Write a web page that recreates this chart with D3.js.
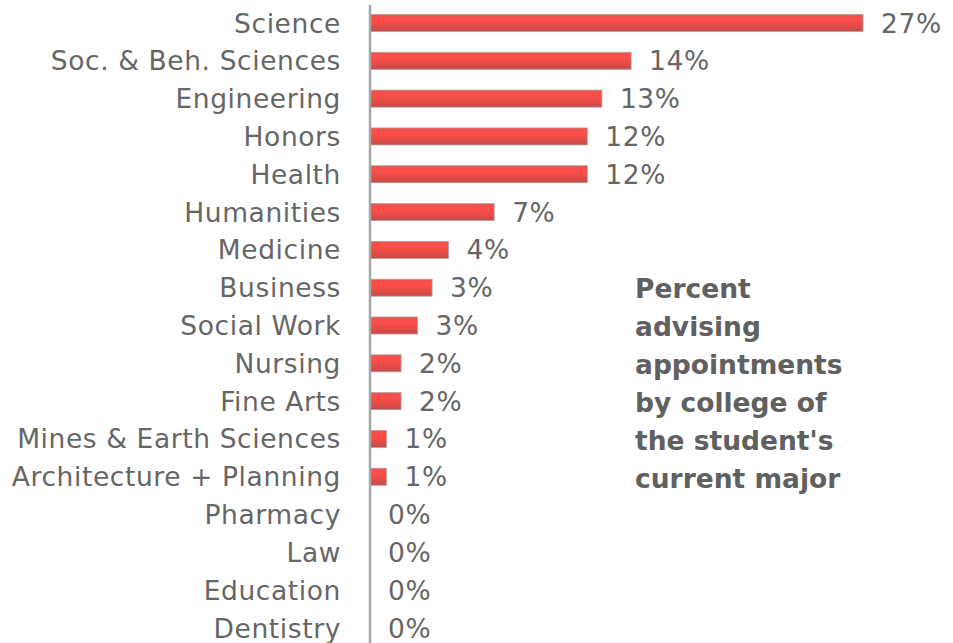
<!DOCTYPE html>
<html lang="en">
<head>
<meta charset="utf-8">
<script src="https://d3js.org/d3.v7.min.js"></script>
<style>
  body { margin: 0; background: #fff; }
  text { font-family: "DejaVu Sans", sans-serif; }
</style>
</head>
<body>
<svg id="chart" width="953" height="643"></svg>
<script>
// data
var colleges = ["Science", "Soc. & Beh. Sciences", "Engineering", "Honors", "Health",
  "Humanities", "Medicine", "Business", "Social Work", "Nursing", "Fine Arts",
  "Mines & Earth Sciences", "Architecture + Planning", "Pharmacy", "Law",
  "Education", "Dentistry"];
var shares = [27.0, 14.3, 12.7, 11.9, 11.9, 6.8, 4.3, 3.4, 2.6, 1.7, 1.7, 0.9, 0.9, 0, 0, 0, 0];
var shareLabels = ["27%", "14%", "13%", "12%", "12%", "7%", "4%", "3%", "3%", "2%", "2%",
  "1%", "1%", "0%", "0%", "0%", "0%"];
var titleLines = ["Percent", "advising", "appointments", "by college of",
  "the student's", "current major"];

var svg = d3.select("#chart");

var x = d3.scaleLinear().domain([0, 27]).range([370, 863]);
var y = d3.scaleBand().domain(colleges).range([4.1, 646.9])
  .paddingInner(0.55).paddingOuter(0.275);

// bar fill, light red on top going darker at the bottom
var defs = svg.append("defs");
var grad = defs.append("linearGradient").attr("id", "barfill")
  .attr("x1", 0).attr("y1", 0).attr("x2", 0).attr("y2", 1);
grad.append("stop").attr("offset", "0%").attr("stop-color", "#f0504c");
grad.append("stop").attr("offset", "35%").attr("stop-color", "#ff4d47");
grad.append("stop").attr("offset", "100%").attr("stop-color", "#c44a47");

var rows = colleges.map(function(c, i) {
  return {name: c, v: shares[i], lab: shareLabels[i]};
});

svg.selectAll("rect.bar").data(rows.filter(function(d) { return d.v > 0; }))
  .enter().append("rect").attr("class", "bar")
  .attr("x", x(0))
  .attr("y", function(d) { return y(d.name); })
  .attr("width", function(d) { return x(d.v) - x(0); })
  .attr("height", y.bandwidth())
  .attr("fill", "url(#barfill)")
  .attr("stroke", "#b0a0a0").attr("stroke-width", 0.8);

// category labels
svg.selectAll("text.cat").data(rows).enter().append("text").attr("class", "cat")
  .attr("x", 341)
  .attr("y", function(d) { return y(d.name) + y.bandwidth() / 2; })
  .attr("dy", "0.36em")
  .attr("text-anchor", "end")
  .attr("font-size", 26.5)
  .attr("letter-spacing", 0.6)
  .attr("fill", "#666666")
  .text(function(d) { return d.name; });

// value labels
svg.selectAll("text.val").data(rows).enter().append("text").attr("class", "val")
  .attr("x", function(d) { return x(d.v) + 18; })
  .attr("y", function(d) { return y(d.name) + y.bandwidth() / 2; })
  .attr("dy", "0.36em")
  .attr("font-size", 26.5)
  .attr("letter-spacing", 0.6)
  .attr("fill", "#666666")
  .text(function(d) { return d.lab; });

// category axis line
svg.append("line").attr("x1", 370).attr("x2", 370).attr("y1", 5).attr("y2", 643)
  .attr("stroke", "#a6a6a6").attr("stroke-width", 2.5);

// title block
svg.append("text").attr("x", 635).attr("y", 298)
  .attr("font-size", 26.5).attr("font-weight", "bold").attr("fill", "#606060")
  .selectAll("tspan").data(titleLines).enter().append("tspan")
  .attr("x", 635)
  .attr("dy", function(d, i) { return i === 0 ? 0 : 38; })
  .text(function(d) { return d; });
</script>
</body>
</html>
